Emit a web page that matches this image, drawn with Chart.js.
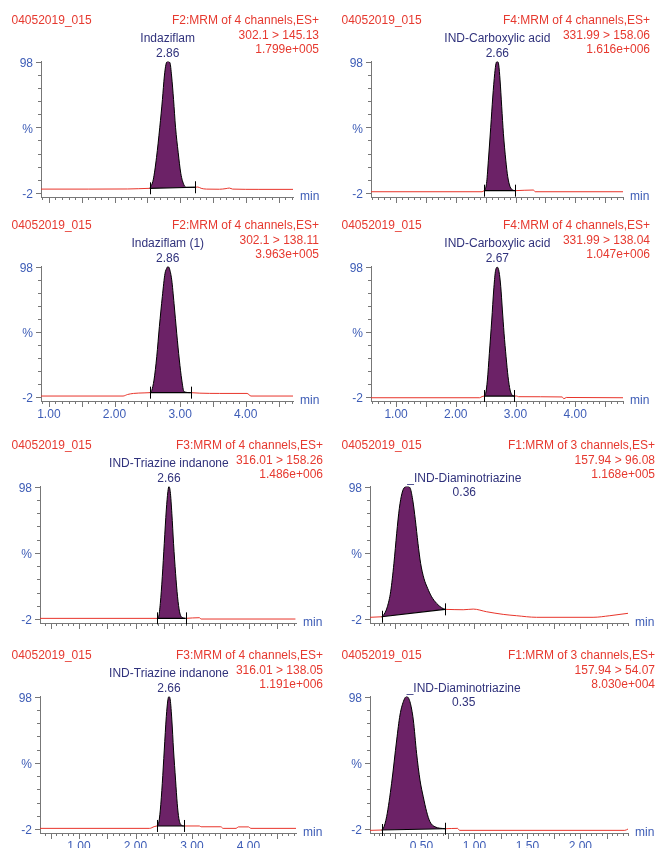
<!DOCTYPE html>
<html>
<head>
<meta charset="utf-8">
<script src="https://cdn.jsdelivr.net/npm/chart.js@4.4.0/dist/chart.umd.min.js"></script>
<style>
  html, body { margin: 0; padding: 0; background: #fff; }
  body { width: 658px; height: 848px; overflow: hidden; position: relative; }
  canvas { position: absolute; }
</style>
</head>
<body>
<script>
// MRM chromatograms, sample 04052019_015
const sampleName = '04052019_015';

// x tick labels
const minLabelsWide = ['1.00', '2.00', '3.00', '4.00'];
const minLabelsEarly = ['0.50', '1.00', '1.50', '2.00'];
// y tick labels
const yLabelValues = [-2, 48, 98];
const yLabelText = ['-2', '%', '98'];

// Indaziflam 302.1 > 145.13
const p1Time = [0.88, 1.60, 2.20, 2.54, 2.59, 2.64, 2.69, 2.73, 2.76, 2.785, 2.81, 2.845, 2.87, 2.90, 2.93, 2.97, 3.01, 3.06, 3.10, 3.23, 3.27, 3.32, 3.40, 3.60, 3.70, 3.75, 3.80, 4.20, 4.72];
const p1Signal = [1.0, 1.0, 1.1, 1.6, 8, 25, 48, 69, 87, 96, 98, 97, 87, 69, 48, 29, 13, 4, 2.4, 2.4, 2.6, 1.6, 1.0, 0.9, 1.4, 1.8, 1.0, 0.8, 0.8];
const p1Window = [2.54, 3.23];
const p1Base = [1.6, 2.4];
const p1Header = ['F2:MRM of 4 channels,ES+', '302.1 > 145.13', '1.799e+005'];
const p1Peak = ['Indaziflam', '2.86'];

// IND-Carboxylic acid 331.99 > 158.06
const p2Time = [0.58, 2.44, 2.473, 2.49, 2.518, 2.546, 2.585, 2.619, 2.652, 2.674, 2.696, 2.719, 2.741, 2.769, 2.797, 2.837, 2.870, 2.909, 2.953, 2.99, 3.30, 3.33, 4.80];
const p2Signal = [-1.0, -1.0, -0.2, 0.5, 6.6, 23, 48, 71, 89, 96.6, 98, 95.3, 84, 63.6, 43.4, 23, 10.4, 2.8, 0.3, -0.2, 0.3, -1.0, -1.0];
const p2Window = [2.473, 2.99];
const p2Base = [-0.2, -0.2];
const p2Header = ['F4:MRM of 4 channels,ES+', '331.99 > 158.06', '1.616e+006'];
const p2Peak = ['IND-Carboxylic acid', '2.66'];

// Indaziflam (1) 302.1 > 138.11
const p3Time = [0.88, 2.13, 2.20, 2.29, 2.45, 2.542, 2.567, 2.602, 2.644, 2.684, 2.729, 2.770, 2.796, 2.811, 2.836, 2.872, 2.907, 2.948, 2.988, 3.025, 3.06, 3.162, 3.30, 3.60, 4.02, 4.08, 4.72];
const p3Signal = [-1.2, -1.2, 0.0, 0.8, 1.2, 1.4, 3, 11, 29, 52, 75, 92.8, 96.6, 98, 96.6, 87.7, 69.8, 46.9, 26.4, 11.1, 2.1, 1.4, 1.0, 0.8, 0.8, -1.2, -1.2];
const p3Window = [2.542, 3.162];
const p3Base = [1.4, 1.4];
const p3Header = ['F2:MRM of 4 channels,ES+', '302.1 > 138.11', '3.963e+005'];
const p3Peak = ['Indaziflam (1)', '2.86'];

// IND-Carboxylic acid 331.99 > 138.04
const p4Time = [0.58, 2.40, 2.44, 2.473, 2.501, 2.529, 2.562, 2.602, 2.635, 2.663, 2.696, 2.724, 2.753, 2.780, 2.808, 2.842, 2.875, 2.909, 2.942, 2.975, 3.02, 3.05, 3.78, 3.81, 3.85, 4.80];
const p4Signal = [-2.5, -2.5, -1.6, -1.2, 0.9, 11, 31.5, 57, 80, 94, 97.5, 94, 82.5, 64.7, 46.9, 28.9, 13.6, 3.4, -0.4, -1.2, -1.2, -1.7, -1.9, -3.3, -2.3, -2.5];
const p4Window = [2.473, 2.975];
const p4Base = [-1.2, -1.2];
const p4Header = ['F4:MRM of 4 channels,ES+', '331.99 > 138.04', '1.047e+006'];
const p4Peak = ['IND-Carboxylic acid', '2.67'];

// IND-Triazine indanone 316.01 > 158.26
const p5Time = [0.31, 2.379, 2.409, 2.439, 2.474, 2.509, 2.545, 2.573, 2.591, 2.615, 2.643, 2.673, 2.709, 2.744, 2.779, 2.820, 2.885, 3.13, 3.16, 4.83];
const p5Signal = [-1.5, -1.5, -0.3, 9.8, 29.9, 55.1, 80.3, 94.1, 98, 94.1, 77.8, 55.1, 32.5, 14.8, 3.5, -0.7, -1.5, -1.0, -2.0, -2.0];
const p5Window = [2.379, 2.885];
const p5Base = [-1.5, -1.5];
const p5Header = ['F3:MRM of 4 channels,ES+', '316.01 > 158.26', '1.486e+006'];
const p5Peak = ['IND-Triazine indanone', '2.66'];

// IND-Diaminotriazine 157.94 > 96.08
const p6Time = [0.014, 0.124, 0.149, 0.178, 0.209, 0.240, 0.266, 0.291, 0.316, 0.341, 0.366, 0.391, 0.417, 0.442, 0.467, 0.492, 0.523, 0.558, 0.596, 0.643, 0.690, 0.722, 0.894, 0.989, 1.115, 1.272, 1.398, 1.587, 2.12, 2.278, 2.45];
const p6Signal = [-0.7, -0.3, 1.8, 7.3, 18.6, 40, 62.7, 81.5, 92.9, 97.4, 98, 97.1, 88, 72.9, 55.1, 40, 28.7, 21.2, 14.8, 9.8, 6.5, 5.3, 5.0, 5.5, 3.5, 1.5, 0.5, -0.7, -0.7, 0.5, 2.3];
const p6Window = [0.124, 0.722];
const p6Base = [-0.3, 5.3];
const p6Header = ['F1:MRM of 3 channels,ES+', '157.94 > 96.08', '1.168e+005'];
const p6Peak = ['_IND-Diaminotriazine', '0.36'];

// IND-Triazine indanone 316.01 > 138.05
const p7Time = [0.31, 2.25, 2.33, 2.379, 2.409, 2.439, 2.474, 2.509, 2.545, 2.573, 2.591, 2.615, 2.643, 2.673, 2.709, 2.738, 2.767, 2.809, 2.855, 3.13, 3.16, 3.51, 3.55, 3.78, 3.82, 4.00, 4.04, 4.84];
const p7Signal = [-1.5, -1.5, -0.2, 0.3, 2.3, 12.3, 32.5, 57.6, 82.8, 95.4, 98, 95.4, 80.3, 57.6, 34.9, 17.4, 6, 1, 0.3, 0.3, -0.3, -0.3, -1.5, -1.5, -0.4, -0.4, -1.5, -1.5];
const p7Window = [2.379, 2.855];
const p7Base = [0.3, 0.3];
const p7Header = ['F3:MRM of 4 channels,ES+', '316.01 > 138.05', '1.191e+006'];
const p7Peak = ['IND-Triazine indanone', '2.66'];

// IND-Diaminotriazine 157.94 > 54.07
const p8Time = [0.014, 0.124, 0.140, 0.171, 0.218, 0.266, 0.297, 0.335, 0.360, 0.391, 0.423, 0.454, 0.486, 0.517, 0.549, 0.580, 0.627, 0.722, 0.84, 0.86, 2.42, 2.45];
const p8Signal = [-3.0, -2.75, -1.5, 7.3, 32.5, 65.2, 84, 95.4, 98, 94.1, 80.3, 55.1, 34.9, 22.3, 11, 3.5, -0.3, -1.8, -1.5, -3.0, -3.0, -2.0];
const p8Window = [0.124, 0.722];
const p8Base = [-2.75, -1.8];
const p8Header = ['F1:MRM of 3 channels,ES+', '157.94 > 54.07', '8.030e+004'];
const p8Peak = ['_IND-Diaminotriazine', '0.35'];

// ---- styling / layout ----
const RED = '#e8352b';
const RED_TEXT = '#e6392f';
const BLUE = '#3d5cb6';
const NAVY = '#30327c';
const AXIS = '#777777';
const PURPLE = '#6c2267';
const FONT_FAMILY = '"Liberation Sans", Arial, sans-serif';
const FONT = '12px ' + FONT_FAMILY;

const rowTop = [0, 205, 425, 635];
const rowBottom = [197, 196, 198, 198];
const CANVAS_H = 230;

const axisA = { min: 0.88, max: 4.72, left: 41, right: 293, minor: 0.1, major: 0.5, labels: minLabelsWide, headRight: 319 };
const axisB = { min: 0.58, max: 4.80, left: 41, right: 293, minor: 0.1, major: 0.5, labels: minLabelsWide, headRight: 320 };
const axisC = { min: 0.31, max: 4.84, left: 40, right: 296, minor: 0.1, major: 0.5, labels: minLabelsWide, headRight: 323 };
const axisD = { min: 0.014, max: 2.45, left: 40, right: 298, minor: 0.05, major: 0.25, labels: minLabelsEarly, headRight: 325 };

const panels = [
  { time: p1Time, signal: p1Signal, win: p1Window, base: p1Base, header: p1Header, peak: p1Peak, row: 0, col: 0, axis: axisA, showX: false },
  { time: p2Time, signal: p2Signal, win: p2Window, base: p2Base, header: p2Header, peak: p2Peak, row: 0, col: 1, axis: axisB, showX: false },
  { time: p3Time, signal: p3Signal, win: p3Window, base: p3Base, header: p3Header, peak: p3Peak, row: 1, col: 0, axis: axisA, showX: true },
  { time: p4Time, signal: p4Signal, win: p4Window, base: p4Base, header: p4Header, peak: p4Peak, row: 1, col: 1, axis: axisB, showX: true },
  { time: p5Time, signal: p5Signal, win: p5Window, base: p5Base, header: p5Header, peak: p5Peak, row: 2, col: 0, axis: axisC, showX: false },
  { time: p6Time, signal: p6Signal, win: p6Window, base: p6Base, header: p6Header, peak: p6Peak, row: 2, col: 1, axis: axisD, showX: false, sideLabel: true },
  { time: p7Time, signal: p7Signal, win: p7Window, base: p7Base, header: p7Header, peak: p7Peak, row: 3, col: 0, axis: axisC, showX: true },
  { time: p8Time, signal: p8Signal, win: p8Window, base: p8Base, header: p8Header, peak: p8Peak, row: 3, col: 1, axis: axisD, showX: true, sideLabel: true }
];

// evenly spaced tick values from anchor, inside [min, max]
function stepTicks(min, max, step, anchor) {
  const out = [];
  let v = anchor + Math.ceil((min - anchor) / step - 1e-9) * step;
  for (; v <= max + 1e-9; v += step) {
    out.push({ value: Math.round(v * 1000) / 1000 });
  }
  return out;
}
function isMajor(v, step) {
  const r = v / step;
  return Math.abs(r - Math.round(r)) < 1e-6;
}

// axis ticks, integration marks, labels and headers
const decor = {
  id: 'decor',
  afterDraw(chart, args, o) {
    const { ctx, chartArea: a, scales: { x, y } } = chart;
    const p = o.panel;
    ctx.save();

    ctx.strokeStyle = AXIS;
    ctx.lineWidth = 1;
    ctx.beginPath();
    x.ticks.forEach(t => {
      const px = Math.round(x.getPixelForValue(t.value)) + 0.5;
      const len = isMajor(t.value, p.axis.major) ? 6 : 3;
      ctx.moveTo(px, a.bottom);
      ctx.lineTo(px, a.bottom + len);
    });
    y.ticks.forEach(t => {
      const py = Math.round(y.getPixelForValue(t.value)) + 0.5;
      const len = yLabelValues.includes(t.value) ? 5 : 3;
      ctx.moveTo(a.left, py);
      ctx.lineTo(a.left - len, py);
    });
    ctx.stroke();

    // integration start / end marks
    ctx.strokeStyle = '#000';
    ctx.beginPath();
    p.win.forEach((t, i) => {
      const px = Math.round(x.getPixelForValue(t)) + 0.5;
      const py = y.getPixelForValue(p.base[i]);
      ctx.moveTo(px, py - 6);
      ctx.lineTo(px, py + 6);
    });
    ctx.stroke();

    ctx.font = FONT;
    ctx.textBaseline = 'middle';

    // headers
    ctx.fillStyle = RED_TEXT;
    ctx.textAlign = 'left';
    ctx.fillText(sampleName, 11.5, 21);
    ctx.textAlign = 'right';
    [21, 35.5, 50].forEach((ty, i) => ctx.fillText(p.header[i], p.axis.headRight, ty));

    // axis unit
    ctx.fillStyle = BLUE;
    ctx.textAlign = 'left';
    ctx.fillText('min', a.right + 7, a.bottom);

    // peak label
    const top = Math.max(...p.signal);
    const apexX = x.getPixelForValue(p.time[p.signal.indexOf(top)]);
    ctx.fillStyle = NAVY;
    if (p.sideLabel) {
      const w = ctx.measureText(p.peak[0]).width;
      ctx.textAlign = 'left';
      ctx.fillText(p.peak[0], apexX, 54);
      ctx.textAlign = 'center';
      ctx.fillText(p.peak[1], apexX + w / 2, 68);
    } else {
      ctx.textAlign = 'center';
      ctx.fillText(p.peak[0], apexX, 39);
      ctx.fillText(p.peak[1], apexX, 53.5);
    }
    ctx.restore();
  }
};

panels.forEach(p => {
  const width = p.col ? 328 : 330;
  const canvas = document.createElement('canvas');
  canvas.width = width;
  canvas.height = CANVAS_H;
  canvas.style.left = (p.col ? 330 : 0) + 'px';
  canvas.style.top = rowTop[p.row] + 'px';
  document.body.appendChild(canvas);

  const pts = p.time.map((t, i) => ({ x: t, y: p.signal[i] }));
  const peakPts = pts.filter(d => d.x >= p.win[0] && d.x <= p.win[1]);
  const tracePts = [
    ...pts.filter(d => d.x <= p.win[0]),
    { x: (p.win[0] + p.win[1]) / 2, y: null },
    ...pts.filter(d => d.x >= p.win[1])
  ];
  const baseLine = p.win.map((t, i) => ({ x: t, y: p.base[i] }));

  const ax = p.axis;
  new Chart(canvas, {
    type: 'line',
    data: {
      datasets: [
        { data: baseLine, borderColor: '#000', borderWidth: 1.2, pointRadius: 0, fill: false },
        { data: peakPts, borderColor: '#000', borderWidth: 1, backgroundColor: PURPLE, fill: '-1',
          pointRadius: 0, cubicInterpolationMode: 'monotone' },
        { data: tracePts, borderColor: RED, borderWidth: 1, pointRadius: 0, fill: false,
          cubicInterpolationMode: 'monotone', spanGaps: false }
      ]
    },
    options: {
      responsive: false,
      animation: false,
      devicePixelRatio: 1,
      layout: {
        padding: { top: 61.5, left: 0, right: width - ax.right, bottom: CANVAS_H - rowBottom[p.row] - 30 }
      },
      plugins: {
        legend: { display: false },
        tooltip: { enabled: false },
        decor: { panel: p }
      },
      scales: {
        x: {
          type: 'linear',
          min: ax.min,
          max: ax.max,
          afterBuildTicks: s => { s.ticks = stepTicks(ax.min, ax.max, ax.minor, 0); },
          afterFit: s => { s.height = 30; },
          grid: { drawOnChartArea: false, drawTicks: false },
          border: { color: AXIS, width: 1 },
          ticks: {
            autoSkip: false,
            maxRotation: 0,
            padding: 6,
            color: BLUE,
            font: { family: FONT_FAMILY, size: 12 },
            callback: v => (p.showX && ax.labels.includes(Number(v).toFixed(2))) ? Number(v).toFixed(2) : ''
          }
        },
        y: {
          min: -5,
          max: 98,
          afterBuildTicks: s => { s.ticks = stepTicks(-2, 98, 10, -2); },
          afterFit: s => { s.width = ax.left; },
          grid: { drawOnChartArea: false, drawTicks: false },
          border: { color: AXIS, width: 1 },
          ticks: {
            autoSkip: false,
            padding: 8,
            labelOffset: 2,
            color: BLUE,
            font: { family: FONT_FAMILY, size: 12 },
            callback: v => {
              const i = yLabelValues.indexOf(Math.round(v));
              return i >= 0 ? yLabelText[i] : '';
            }
          }
        }
      }
    },
    plugins: [decor]
  });
});
</script>
</body>
</html>
